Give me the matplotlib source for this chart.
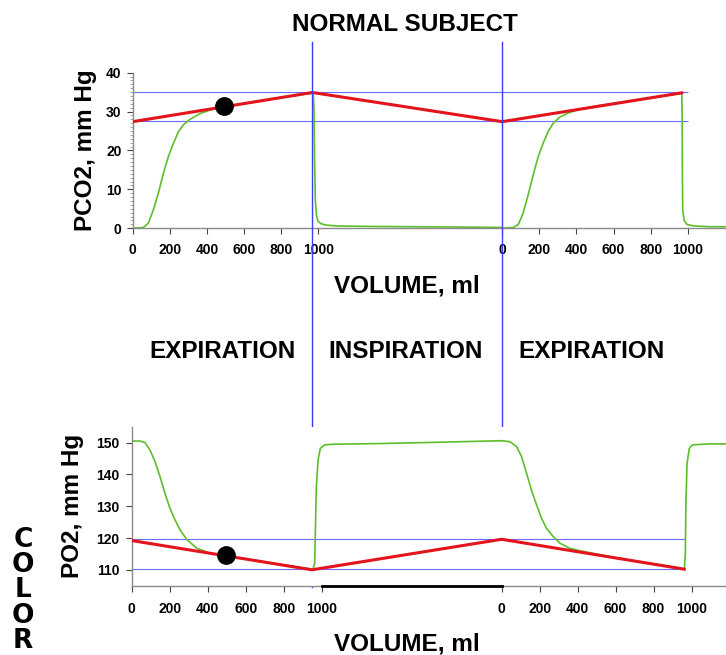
import matplotlib
matplotlib.use('Agg')
import matplotlib.pyplot as plt
from matplotlib.ticker import MultipleLocator
from matplotlib.transforms import blended_transform_factory

plt.rcParams['font.family'] = ['Liberation Sans', 'DejaVu Sans']
plt.rcParams['font.weight'] = 'bold'

# ---- data ----
tick_vals = [0, 200, 400, 600, 800, 1000]

# PCO2 panel (volume in ml, second expiration starts at offset)
co2_offset = 1991
co2_xmax = 3197
co2_exp1_vol = [0, 57, 84, 111, 138, 165, 192, 219, 246, 273, 309, 363, 417, 470, 600, 800, 950,
                973, 977, 980, 984, 991, 1000, 1018, 1045, 1099, 1224, 1500, 1800, 1991]
co2_exp1_val = [0, 0.2, 1.3, 4.7, 9.0, 14.1, 18.4, 21.8, 24.8, 26.6, 28.0, 29.5, 30.4, 31.1, 32.0, 33.6, 34.6,
                34.7, 30.4, 17.6, 7.3, 3.0, 1.7, 1.1, 0.8, 0.6, 0.5, 0.4, 0.3, 0.2]
co2_exp2_vol = [0, 59, 86, 113, 140, 167, 194, 221, 248, 275, 311, 365, 419, 491, 700, 900, 962,
                968, 970, 971, 973, 980, 995, 1031, 1121, 1206]
co2_exp2_val = [0, 0.2, 0.9, 3.9, 8.6, 13.7, 18.4, 21.9, 24.9, 27.0, 28.6, 29.8, 30.6, 31.3, 32.8, 34.2, 34.7,
                34.6, 26.0, 13.3, 4.7, 2.1, 1.0, 0.6, 0.4, 0.4]
co2_red_vol = [0, 968, 1991, 2958]
co2_red_val = [27.4, 34.9, 27.4, 34.8]
co2_levels = [27.5, 35.1]
co2_level_end = 2992
co2_dot = (490, 31.3)

# PO2 panel
o2_offset = 1947
o2_xmax = 3128
o2_exp1_vol = [0, 44, 70, 96, 123, 149, 175, 201, 228, 254, 289, 342, 412, 482, 700, 900, 954,
               963, 968, 972, 981, 993, 1016, 1060, 1300, 1600, 1947]
o2_exp1_val = [150.5, 150.5, 150.0, 147.7, 144.0, 139.3, 134.1, 129.4, 125.7, 122.6, 119.6, 116.8, 115.2,
               114.5, 112.5, 110.6, 110.2, 112.0, 125.7, 136.2, 144.6, 148.2, 149.3, 149.5, 149.7, 150.1, 150.6]
o2_exp2_vol = [0, 44, 79, 105, 131, 157, 184, 210, 236, 271, 306, 358, 411, 600, 850, 962,
               967, 970, 976, 988, 1005, 1093, 1181]
o2_exp2_val = [150.6, 150.3, 148.7, 145.6, 140.4, 135.1, 130.4, 126.2, 123.1, 120.5, 118.4, 116.8, 116.0,
               113.8, 111.4, 110.2, 115.2, 130.9, 143.5, 148.2, 149.3, 149.6, 149.6]
o2_red_vol = [0, 949, 1947, 2908]
o2_red_val = [119.2, 110.0, 119.6, 110.2]
o2_levels = [110.1, 119.8]
o2_level_end = 2912
o2_dot = (497, 114.7)

phase_boundaries = [968, co2_offset]  # in PCO2 volume units
phase_labels = ['EXPIRATION', 'INSPIRATION', 'EXPIRATION']

green = '#5cbf2a'
red = '#e3141c'
blue = '#6a6aff'
vblue = '#3c3cff'
gray = '#8a8a8a'

fig = plt.figure(figsize=(7.26, 6.55), dpi=100)
ax1 = fig.add_axes([0.1828, 0.6515, 0.8172, 0.2376])
ax2 = fig.add_axes([0.1814, 0.1058, 0.8186, 0.2427])


def style(ax, offset, xmax, ylim, yticks, ylabel, lab_x, xpad, ypad):
    ax.set_xlim(0, xmax)
    ax.set_ylim(*ylim)
    ax.set_yticks(yticks)
    ax.set_xticks(tick_vals + [offset + t for t in tick_vals])
    ax.set_xticklabels([str(t) for t in tick_vals] * 2)
    for s in ['top', 'right']:
        ax.spines[s].set_visible(False)
    for s in ['left', 'bottom']:
        ax.spines[s].set_color(gray)
        ax.spines[s].set_linewidth(1)
    ax.tick_params(axis='x', length=4, color='#444444', labelsize=10, pad=xpad)
    ax.tick_params(axis='y', length=4, color='#444444', labelsize=10, pad=ypad)
    for lab in ax.get_xticklabels() + ax.get_yticklabels():
        lab.set_fontweight('bold')
    ax.set_ylabel(ylabel, fontsize=17.5, fontweight='bold')
    ax.yaxis.set_label_coords(lab_x, 0.5)


# PCO2
ax1.hlines(co2_levels, 0, co2_level_end, color=blue, lw=0.8, zorder=1)
ax1.plot(co2_exp1_vol, co2_exp1_val, color=green, lw=1.2, zorder=2)
ax1.plot([v + co2_offset for v in co2_exp2_vol], co2_exp2_val, color=green, lw=1.2, zorder=2)
ax1.plot(co2_red_vol, co2_red_val, color=red, lw=2.2, zorder=3)
ax1.plot(*co2_dot, 'o', color='black', ms=12.5, zorder=4)
style(ax1, co2_offset, co2_xmax, (0, 40), [0, 10, 20, 30, 40], 'PCO2, mm Hg', -0.060, 6.5, 4)
ax1.yaxis.set_minor_locator(MultipleLocator(1))
ax1.tick_params(axis='y', which='minor', length=2, color='#999999')

# PO2
ax2.hlines(o2_levels, 0, o2_level_end, color=blue, lw=0.8, zorder=1)
ax2.plot(o2_exp1_vol, o2_exp1_val, color=green, lw=1.2, zorder=2)
ax2.plot([v + o2_offset for v in o2_exp2_vol], o2_exp2_val, color=green, lw=1.2, zorder=2)
ax2.plot(o2_red_vol, o2_red_val, color=red, lw=2.2, zorder=3)
ax2.plot(*o2_dot, 'o', color='black', ms=12.5, zorder=4)
style(ax2, o2_offset, o2_xmax, (105, 155), [110, 120, 130, 140, 150], 'PO2, mm Hg', -0.080, 7.5, 5)
# darker piece of the axis under inspiration
ax2.plot([tick_vals[-1], o2_offset], [105, 105], color='black', lw=2, clip_on=False, zorder=5)

# vertical phase boundaries through both panels
tr = blended_transform_factory(ax1.transData, fig.transFigure)
for xb in phase_boundaries:
    ax1.plot([xb, xb], [0.936, 0.1035], color=vblue, lw=1.0, transform=tr, clip_on=False, zorder=6)

txt = dict(fontsize=17.5, fontweight='bold', ha='center', va='baseline')
fig.text(0.558, 0.9527, 'NORMAL SUBJECT', **txt)
fig.text(0.561, 0.5527, 'VOLUME, ml', **txt)
fig.text(0.561, 0.0076, 'VOLUME, ml', **txt)
for xc, lab in zip([0.306, 0.559, 0.815], phase_labels):
    fig.text(xc, 0.4534, lab, **txt)

for i, ch in enumerate('COLOR'):
    fig.text(0.032, (655 - 547 - i * 25.2) / 655, ch, fontsize=19, fontweight='heavy',
             family='DejaVu Sans', ha='center', va='baseline')

fig.savefig('out.png', dpi=100)
